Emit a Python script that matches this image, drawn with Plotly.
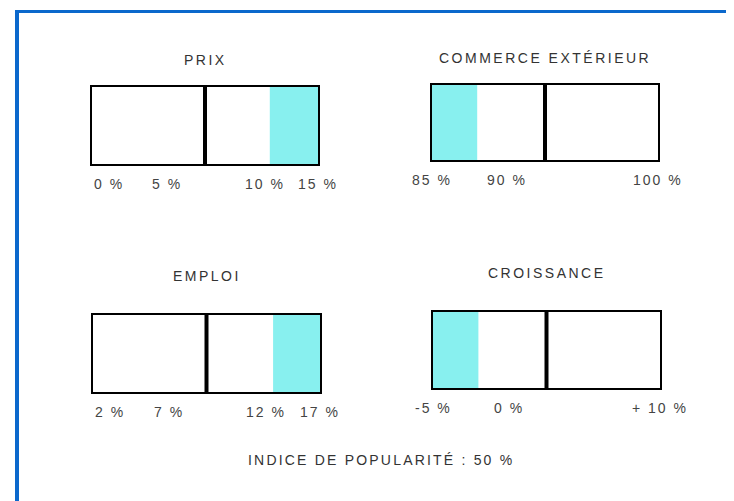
import plotly.graph_objects as go

# ---------------- data ----------------
panel_titles = ["PRIX", "COMMERCE EXTÉRIEUR", "EMPLOI", "CROISSANCE"]
axis_min = [0, 85, 2, -5]
axis_max = [15, 100, 17, 10]
mid_values = [7.5, 92.5, 9.5, 2.5]
shade_start = [11.8, 85.0, 13.9, -5.0]
shade_end = [15.0, 88.0, 17.0, -2.0]
tick_values = [[0, 5, 10, 15], [85, 90, 100], [2, 7, 12, 17], [-5, 0, 10]]
tick_labels = [["0 %", "5 %", "10 %", "15 %"],
               ["85 %", "90 %", "100 %"],
               ["2 %", "7 %", "12 %", "17 %"],
               ["-5 %", "0 %", "+ 10 %"]]
popularity_text = "INDICE DE POPULARITÉ : 50 %"

# ---------------- layout / style ----------------
OFF = 8                      # page body margin of the html page
W, H = 734 - OFF, 501 - OFF  # figure size in pixels
box_px = [(92, 318, 87, 164), (432, 658, 85, 160), (93, 320, 315, 392), (433, 660, 312, 388)]
title_shift = [17, 17, 29, 29]
tick_anchor = [["left", "center", "left", "center"],
               ["center", "center", "center"],
               ["left", "center", "left", "center"],
               ["center", "center", "center"]]
FONT = "Liberation Sans, Arial, sans-serif"
SHADE = "#88F0EF"
BLUE = "#0B68CC"


def px_x(v):
    return (v - OFF) / W


def px_y(v):
    return 1 - (v - OFF) / H


def spaced(t, px):
    return f'<span style="letter-spacing:{px}px">{t}</span>'


fig = go.Figure()
layout_axes = {}
annotations = []

for i in range(4):
    n = "" if i == 0 else str(i + 1)
    xa, ya = "x" + n, "y" + n
    x0, x1, y0, y1 = box_px[i]
    fig.add_trace(go.Bar(
        orientation="h", y=[0.5], base=[shade_start[i]],
        x=[shade_end[i] - shade_start[i]], width=1,
        marker=dict(color=SHADE, line=dict(width=0)),
        xaxis=xa, yaxis=ya, showlegend=False, hoverinfo="skip"))
    fig.add_trace(go.Scatter(
        x=[mid_values[i], mid_values[i]], y=[0, 1], mode="lines",
        line=dict(color="black", width=4),
        xaxis=xa, yaxis=ya, showlegend=False, hoverinfo="skip"))
    common = dict(showline=True, mirror=True, linewidth=2, linecolor="black",
                  showgrid=False, zeroline=False, showticklabels=False, ticks="",
                  fixedrange=True)
    layout_axes["xaxis" + n] = dict(domain=[px_x(x0), px_x(x1)],
                                    range=[axis_min[i], axis_max[i]],
                                    anchor=ya, **common)
    layout_axes["yaxis" + n] = dict(domain=[px_y(y1), px_y(y0)],
                                    range=[0, 1], anchor=xa, **common)
    annotations.append(dict(
        text=spaced(panel_titles[i], 2.5), xref=xa + " domain", yref=ya + " domain",
        x=0.5, y=1, xanchor="center", yanchor="bottom", yshift=title_shift[i],
        showarrow=False, font=dict(family=FONT, size=14, color="#333333")))
    for v, lab, anc in zip(tick_values[i], tick_labels[i], tick_anchor[i]):
        annotations.append(dict(
            text=spaced(lab, 2), xref=xa, yref=ya + " domain",
            x=v, y=0, xanchor=anc, yanchor="top", yshift=-10,
            showarrow=False, font=dict(family=FONT, size=14, color="#444444")))

annotations.append(dict(
    text=spaced(popularity_text, 2.2), xref="paper", yref="paper",
    x=px_x(381), y=px_y(460), xanchor="center", yanchor="middle",
    showarrow=False, font=dict(family=FONT, size=14, color="#333333")))

shapes = [
    dict(type="line", xref="paper", yref="paper", x0=px_x(17), x1=px_x(17),
         y0=px_y(10), y1=0, line=dict(color=BLUE, width=4)),
    dict(type="line", xref="paper", yref="paper", x0=px_x(15), x1=px_x(731),
         y0=px_y(11.5), y1=px_y(11.5), line=dict(color=BLUE, width=3)),
    dict(type="line", xref="paper", yref="paper", x0=px_x(732), x1=px_x(732),
         y0=px_y(10), y1=0, line=dict(color="#2A8BE0", width=2)),
]

fig.update_layout(
    width=W, height=H, margin=dict(l=0, r=0, t=0, b=0),
    paper_bgcolor="white", plot_bgcolor="white",
    showlegend=False, barmode="overlay",
    annotations=annotations, shapes=shapes, **layout_axes)

fig.write_html("out.html")
